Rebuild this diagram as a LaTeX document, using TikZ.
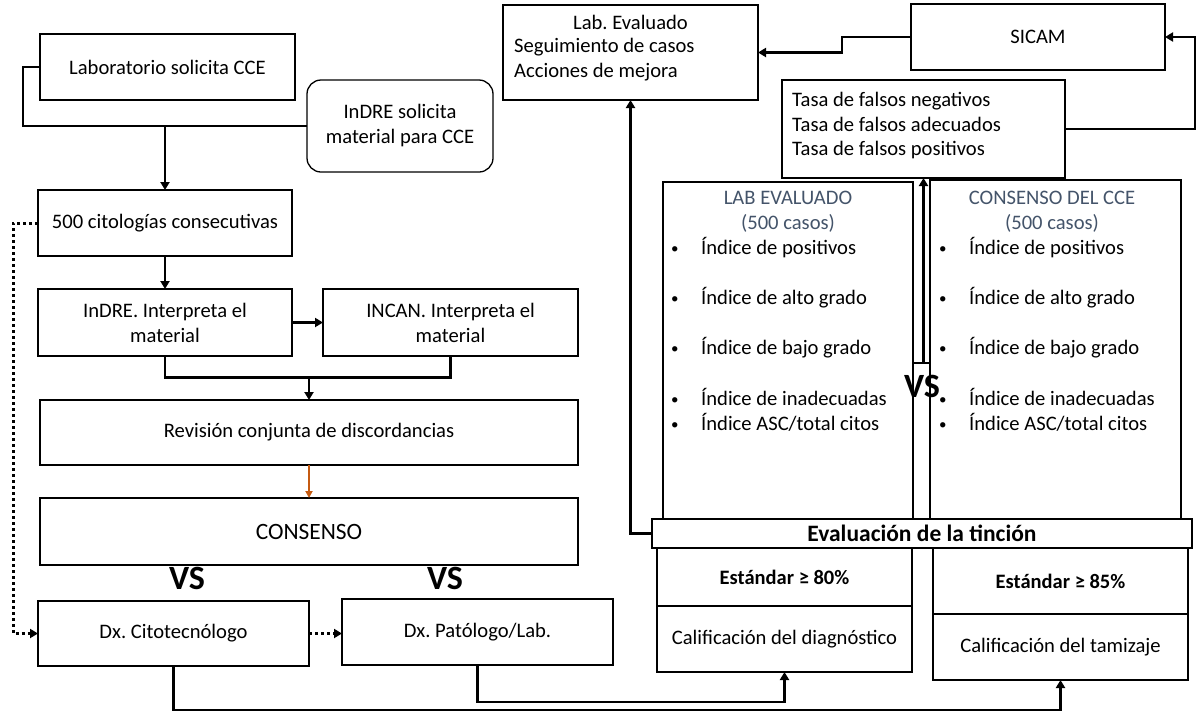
\documentclass[tikz,border=0pt]{standalone}
\usepackage{fontspec}
\setmainfont{Carlito}
\usepackage{xcolor}
\usetikzlibrary{positioning, calc, arrows.meta}
\frenchspacing

\definecolor{titleblue}{HTML}{44546A}
\definecolor{orangearrow}{HTML}{C55A11}

\tikzset{
  box/.style={draw, line width=1.3pt, inner sep=0pt, outer sep=0pt, align=center,
    fill=white, font=\fontsize{20.6}{25}\selectfont},
  wh/.style 2 args={minimum width=#1pt, minimum height=#2pt},
  wire/.style={line width=2.7pt},
  conn/.style={line width=2.7pt, -{Triangle[length=8pt,width=9pt]}},
  dotconn/.style={line width=3pt, dash pattern=on 3pt off 3pt, -{Triangle[length=8pt,width=9pt]}},
  vslabel/.style={inner sep=0pt, font=\fontsize{34}{40}\selectfont\bfseries},
  title/.style={inner sep=0pt, align=center, text=titleblue, font=\fontsize{20.6}{25}\selectfont},
  plaintext/.style={inner sep=0pt, align=left, font=\fontsize{20.6}{25}\selectfont},
  item/.style={anchor=west, inner sep=0pt, text height=14pt, text depth=5pt, font=\fontsize{20.6}{25}\selectfont},
  boldtext/.style={font=\fontsize{20.5}{25}\selectfont\bfseries},
}
\newcommand{\bulletdot}{\makebox[30pt][l]{\raisebox{1pt}{\fontsize{15}{18}\selectfont•}}}

\begin{document}
\begin{tikzpicture}[x=1pt, y=-1pt]
\useasboundingbox (0,0) rectangle (1203,713);

    % Left column: request of the CCE
    \node[box, wh={255}{66}] (lab) at (167.5,67) {Laboratorio solicita CCE};
    \node[box, wh={186}{92}, rounded corners=14pt] (indre) at (400,126) {InDRE solicita\\material para CCE};
    \node[box, wh={254}{66}] (c500) at (165,223) {500 citologías consecutivas};

    % Interpretation by both institutes
    \node[box, wh={254}{67}] (indreI) at (165,322.5) {InDRE. Interpreta el\\material};
    \node[box, wh={255}{67}] (incan) at (450.5,322.5) {INCAN. Interpreta el\\material};
    \node[box, wh={538}{65}] (rev) at (309,432.5) {Revisión conjunta de discordancias};
    \node[box, wh={538}{67}, font=\fontsize{23.4}{28}\selectfont] (cons) at (309,531.5) {CONSENSO};

    % Diagnoses compared with the consensus
    \node[vslabel] (vs1) at (187,578) {VS};
    \node[vslabel] (vs2) at (445,578) {VS};
    \node[box, wh={271}{65}] (dxc) at (173.5,633.5) {Dx. Citotecnólogo};
    \node[box, wh={271}{66}] (dxp) at (477.5,632) {Dx. Patólogo/Lab.};

    % Right column: feedback boxes
    \node[box, wh={255}{95}] (labev) at (630.5,52.5) {};
    \node[plaintext] (labevt) at (630.5,22) {Lab. Evaluado};
    \node[plaintext, anchor=west] (labevl) at (514,59.5) {Seguimiento de casos\\Acciones de mejora};
    \node[box, wh={254}{66}] (sicam) at (1038,37) {SICAM};
    \node[box, wh={283}{98}] (tasa) at (923.5,129) {};
    \node[plaintext, anchor=west, font=\fontsize{20.6}{24.5}\selectfont] (tasat) at (792,126)
          {Tasa de falsos negativos\\Tasa de falsos adecuados\\Tasa de falsos positivos};

    % Comparison of the lab against the consensus
    \node[box, wh={250}{358}] (labE) at (788,361) {};
    \node[box, wh={251}{360}] (ccE) at (1055.5,360) {};
    \node[title] (labEt) at (788,211.5) {LAB EVALUADO\\(500 casos)};
    \node[title] (ccEt) at (1052,211.5) {CONSENSO DEL CCE\\(500 casos)};
    \foreach \x/\side in {671/L, 939/R}
      \foreach \y/\txt [count=\i] in {250/de positivos, 300/de alto grado, 350/de bajo grado,
                                      401/de inadecuadas, 426/{ASC/total citos}}
        \node[item] (idx\side\i) at (\x,\y) {\bulletdot Índice \txt};
    \coordinate (vsleft) at (labE.east |- 0,363);
    \coordinate (vsright) at (ccE.west |- 0,363);
    \draw[line width=1.3pt] (vsleft) -- (vsright);
    \draw[conn] (tasa.south |- vsleft) -- (tasa.south);
    \node[vslabel] (vs3) at (922,386) {VS};

    % Standards and grading
    \node[box, wh={255}{58}, boldtext] (std80) at (784.5,577) {Estándar ≥ 80\%};
    \node[box, wh={255}{66}] (cal80) at (784.5,639) {Calificación del diagnóstico};
    \node[box, wh={255}{66}, boldtext] (std85) at (1060.5,581) {Estándar ≥ 85\%};
    \node[box, wh={255}{66}] (cal85) at (1060.5,647) {Calificación del tamizaje};
    \node[box, wh={540}{29}, font=\fontsize{23.5}{28}\selectfont\bfseries] (bar) at (922,533.5) {Evaluación de la tinción};

    % Connectors of the left column
    \draw[wire] (lab.west) -- ++(-17,0) |- (indre.west);
    \draw[conn] (c500.north |- indre.west) -- (c500.north);
    \draw[conn] (c500) -- (indreI);
    \draw[conn] (indreI) -- (indreI -| incan.west);
    \draw[wire] (indreI.south) -- ++(0,21.5) -| (incan.south);
    \draw[conn] (rev.north |- 0,377) -- (rev.north);
    \draw[line width=2pt, draw=orangearrow, -{Triangle[length=7pt,width=7pt]}, fill=orangearrow] (rev) -- (cons);

    % Dotted paths of the slides
    \draw[dotconn] (c500.west) -- ++(-25,0) |- (dxc.west);
    \draw[dotconn] (dxc.east) -- (dxc.east -| dxp.west);

    % Diagnoses to the grading boxes
    \draw[conn] (dxc.south) -- ++(0,44) -| (cal85.south);
    \draw[conn] (dxp.south) -- ++(0,37) -| (cal80.south);

    % Feedback loop
    \draw[conn] (bar.west) -| (labev.south);
    \draw[conn] (tasa.east) -- ++(130,0) |- (sicam.east);
    \draw[conn] (sicam.west) -- ++(-69,0) |- (labev.east);

\end{tikzpicture}
\end{document}
